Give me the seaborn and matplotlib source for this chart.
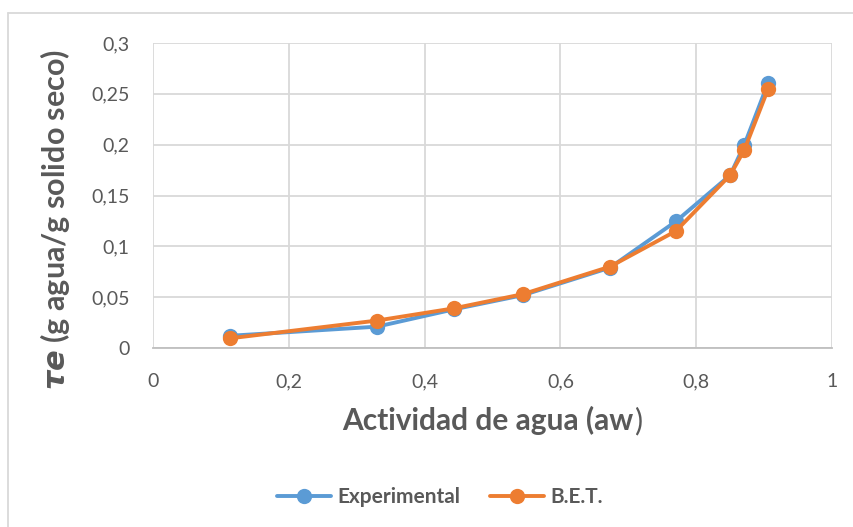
import matplotlib
matplotlib.use("Agg")
import matplotlib.pyplot as plt
import seaborn as sns
import pandas as pd
from matplotlib.lines import Line2D

aw = [0.113, 0.330, 0.443, 0.545, 0.673, 0.770, 0.850, 0.871, 0.906]
exp_vals = [0.012, 0.021, 0.038, 0.052, 0.079, 0.1245, 0.170, 0.200, 0.261]
bet_vals = [0.0095, 0.027, 0.039, 0.053, 0.080, 0.115, 0.170, 0.195, 0.255]
series_names = ["Experimental", "B.E.T."]
x_ticks = [0, 0.2, 0.4, 0.6, 0.8, 1.0]
x_tick_labels = ["0", "0,2", "0,4", "0,6", "0,8", "1"]
y_ticks = [0, 0.05, 0.1, 0.15, 0.2, 0.25, 0.3]
y_tick_labels = ["0", "0,05", "0,1", "0,15", "0,2", "0,25", "0,3"]

sns.set_theme(style="white")
plt.rcParams['font.family'] = ['Lato', 'DejaVu Sans']

df = pd.DataFrame({
    "aw": aw * 2,
    "val": exp_vals + bet_vals,
    "serie": [series_names[0]] * len(aw) + [series_names[1]] * len(aw),
})

colors = {"Experimental": "#5B9BD5", "B.E.T.": "#ED7D31"}
TXT = "#595959"
MS = 11
LW = 2.8
W, H = 854, 527
fig = plt.figure(figsize=(W / 100, H / 100), dpi=100)
ax = fig.add_axes([153 / W, 1 - 348 / H, (832 - 153) / W, (348 - 43) / H])

sns.lineplot(data=df, x="aw", y="val", hue="serie", palette=colors,
             hue_order=series_names, sort=False, marker="o", markersize=MS,
             markeredgewidth=0, linewidth=LW, ax=ax, legend=False)

ax.set_xlim(0, 1)
ax.set_ylim(0, 0.3)
ax.set_xticks(x_ticks)
ax.set_xticklabels(x_tick_labels)
ax.set_yticks(y_ticks)
ax.set_yticklabels(y_tick_labels)
ax.grid(True, color="#d9d9d9", linewidth=1.3)
ax.set_axisbelow(True)
for s in ["top", "right", "left"]:
    ax.spines[s].set_visible(False)
ax.spines["bottom"].set_color("#bfbfbf")
ax.spines["bottom"].set_linewidth(1.3)
ax.tick_params(axis="both", length=0, labelsize=14, labelcolor=TXT)
ax.tick_params(axis="x", pad=18)
ax.tick_params(axis="y", pad=17)

ax.set_xlabel("Actividad de agua (aw", fontsize=21.5, fontweight="bold", color=TXT)
ax.xaxis.set_label_coords((488 - 153) / 679, -(406 - 348) / 305)
ax.set_ylabel(r"$\boldsymbol{\tau e}$ (g agua/g solido seco)", fontsize=22,
              fontweight="bold", color=TXT)
ax.yaxis.set_label_coords(-(153 - 72) / 679, (348 - 219) / 305)

handles = [Line2D([0], [0], color=colors[n], marker="o", markersize=MS,
                  markeredgewidth=0, linewidth=LW) for n in series_names]
fig.legend(handles, series_names, loc="center", bbox_to_anchor=(440 / W, 1 - 497 / H),
           ncol=2, frameon=False, handlelength=2.6, columnspacing=1.4,
           handletextpad=0.3, prop={"size": 15, "weight": "bold"},
           labelcolor=TXT)

# closing parenthesis of the x label in regular weight
fig.canvas.draw()
bb = ax.xaxis.label.get_window_extent()
ax.annotate(")", xy=(bb.x1, bb.y0), xycoords="figure pixels",
            xytext=(1, 0), textcoords="offset points", ha="left", va="bottom",
            fontsize=21.5, color=TXT)

# outer chart border (top and left edges visible)
fig.add_artist(Line2D([8 / W, 1.0], [1 - 13 / H, 1 - 13 / H], color="#d9d9d9", linewidth=1.3))
fig.add_artist(Line2D([8 / W, 8 / W], [0, 1 - 13 / H], color="#d9d9d9", linewidth=1.3))

fig.savefig("out.png", dpi=100, facecolor="white")
